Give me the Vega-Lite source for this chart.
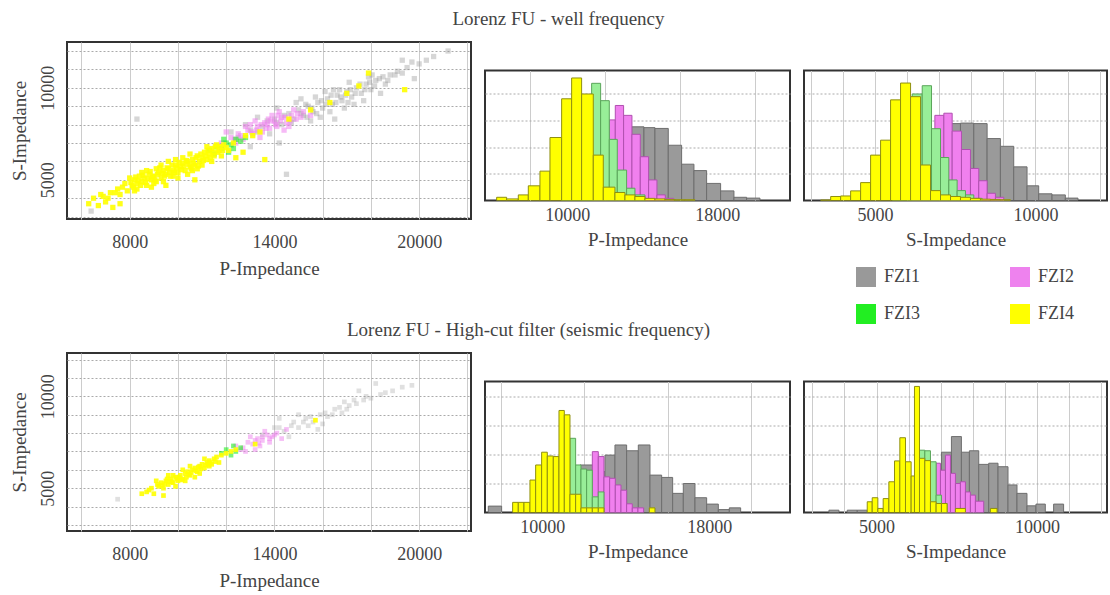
{
"$schema": "https://vega.github.io/schema/vega-lite/v6.json",
"background": "white",
"padding": {"left": 8, "top": 10, "right": 0, "bottom": 0},
"config": {
  "font": "Liberation Serif",
  "view": {"stroke": "#333333", "strokeWidth": 2},
  "axis": {"labelFont": "Liberation Serif", "labelFontSize": 18, "labelColor": "#444444", "titleFont": "Liberation Serif", "titleFontSize": 19, "titleFontWeight": "normal", "titleColor": "#444444", "domain": false, "ticks": false, "gridColor": "#cccccc", "labelOverlap": false, "format": "d"},
  "title": {"font": "Liberation Serif", "fontSize": 19, "fontWeight": "normal", "color": "#444444", "anchor": "middle"},
  "legend": {"labelFont": "Liberation Serif"}
},
"datasets": {
"sc1": [
{"fzi":"FZI1","p":12500,"s":7300},{"fzi":"FZI1","p":13000,"s":7700},{"fzi":"FZI1","p":13500,"s":7900},{"fzi":"FZI1","p":14000,"s":8300},{"fzi":"FZI1","p":14300,"s":8000},{"fzi":"FZI1","p":14600,"s":8600},{"fzi":"FZI1","p":14800,"s":8300},{"fzi":"FZI1","p":15000,"s":8800},{"fzi":"FZI1","p":15200,"s":8500},{"fzi":"FZI1","p":15400,"s":9000},{"fzi":"FZI1","p":15600,"s":8700},{"fzi":"FZI1","p":15800,"s":9200},{"fzi":"FZI1","p":16000,"s":8900},{"fzi":"FZI1","p":16200,"s":9400},{"fzi":"FZI1","p":16400,"s":9100},{"fzi":"FZI1","p":16600,"s":9600},{"fzi":"FZI1","p":16800,"s":9300},{"fzi":"FZI1","p":17000,"s":9800},{"fzi":"FZI1","p":17200,"s":9500},{"fzi":"FZI1","p":17400,"s":10000},{"fzi":"FZI1","p":17600,"s":9700},{"fzi":"FZI1","p":17800,"s":10200},{"fzi":"FZI1","p":18000,"s":9900},{"fzi":"FZI1","p":18200,"s":10400},{"fzi":"FZI1","p":18500,"s":10600},{"fzi":"FZI1","p":18800,"s":10700},{"fzi":"FZI1","p":19100,"s":10900},{"fzi":"FZI1","p":19500,"s":11100},{"fzi":"FZI1","p":20000,"s":11300},{"fzi":"FZI1","p":20600,"s":11700},{"fzi":"FZI1","p":21200,"s":12000},{"fzi":"FZI1","p":15900,"s":8400},{"fzi":"FZI1","p":16700,"s":9900},{"fzi":"FZI1","p":17300,"s":9100},{"fzi":"FZI1","p":14900,"s":9200},{"fzi":"FZI1","p":15500,"s":8200},{"fzi":"FZI1","p":16100,"s":9800},{"fzi":"FZI1","p":17900,"s":10600},{"fzi":"FZI1","p":13800,"s":7500},{"fzi":"FZI1","p":14200,"s":7000},{"fzi":"FZI1","p":13000,"s":6800},{"fzi":"FZI1","p":16500,"s":8300},{"fzi":"FZI1","p":18400,"s":9700},{"fzi":"FZI1","p":19800,"s":10500},{"fzi":"FZI1","p":8300,"s":8300},{"fzi":"FZI1","p":14500,"s":5300},{"fzi":"FZI1","p":15100,"s":9400},{"fzi":"FZI1","p":16300,"s":8700},{"fzi":"FZI1","p":17100,"s":10300},{"fzi":"FZI1","p":18600,"s":10200},{"fzi":"FZI1","p":14100,"s":8900},{"fzi":"FZI1","p":15700,"s":9500},{"fzi":"FZI1","p":16900,"s":8900},{"fzi":"FZI1","p":13300,"s":8400},{"fzi":"FZI1","p":19300,"s":11500},{"fzi":"FZI1","p":17700,"s":9300},{"fzi":"FZI1","p":12800,"s":8000},{"fzi":"FZI1","p":6400,"s":3300},
{"fzi":"FZI1","p":14100,"s":8100},{"fzi":"FZI1","p":14400,"s":8500},{"fzi":"FZI1","p":14700,"s":8100},{"fzi":"FZI1","p":15100,"s":8600},{"fzi":"FZI1","p":15300,"s":9100},{"fzi":"FZI1","p":15550,"s":8900},{"fzi":"FZI1","p":15750,"s":8600},{"fzi":"FZI1","p":15950,"s":9300},{"fzi":"FZI1","p":16150,"s":9100},{"fzi":"FZI1","p":16350,"s":9600},{"fzi":"FZI1","p":16550,"s":9200},{"fzi":"FZI1","p":16750,"s":9500},{"fzi":"FZI1","p":16950,"s":9600},{"fzi":"FZI1","p":17150,"s":9900},{"fzi":"FZI1","p":17350,"s":9700},{"fzi":"FZI1","p":17550,"s":10200},{"fzi":"FZI1","p":17750,"s":9900},{"fzi":"FZI1","p":17950,"s":10300},{"fzi":"FZI1","p":18150,"s":10100},{"fzi":"FZI1","p":18350,"s":10500},{"fzi":"FZI1","p":18700,"s":10400},{"fzi":"FZI1","p":19000,"s":10700},{"fzi":"FZI1","p":19300,"s":10800},{"fzi":"FZI1","p":13700,"s":8200},{"fzi":"FZI1","p":13300,"s":7600},{"fzi":"FZI1","p":15350,"s":8400},{"fzi":"FZI1","p":16450,"s":9900},{"fzi":"FZI1","p":17050,"s":9200},{"fzi":"FZI1","p":18050,"s":10700},{"fzi":"FZI1","p":19700,"s":11400},{"fzi":"FZI1","p":20300,"s":11500},{"fzi":"FZI1","p":12200,"s":7600},
{"fzi":"FZI2","p":11800,"s":7000},{"fzi":"FZI2","p":12200,"s":7300},{"fzi":"FZI2","p":12500,"s":7500},{"fzi":"FZI2","p":12700,"s":7200},{"fzi":"FZI2","p":12900,"s":7700},{"fzi":"FZI2","p":13100,"s":7500},{"fzi":"FZI2","p":13300,"s":7900},{"fzi":"FZI2","p":13500,"s":7600},{"fzi":"FZI2","p":13600,"s":8100},{"fzi":"FZI2","p":13800,"s":7800},{"fzi":"FZI2","p":14000,"s":8200},{"fzi":"FZI2","p":14100,"s":7900},{"fzi":"FZI2","p":14300,"s":8400},{"fzi":"FZI2","p":14500,"s":8100},{"fzi":"FZI2","p":14700,"s":8500},{"fzi":"FZI2","p":14900,"s":8300},{"fzi":"FZI2","p":15200,"s":8700},{"fzi":"FZI2","p":13200,"s":8200},{"fzi":"FZI2","p":13900,"s":8500},{"fzi":"FZI2","p":14400,"s":7700},{"fzi":"FZI2","p":12800,"s":7900},{"fzi":"FZI2","p":15500,"s":8500},{"fzi":"FZI2","p":12000,"s":7600},{"fzi":"FZI2","p":13400,"s":7300},{"fzi":"FZI2","p":14200,"s":8700},{"fzi":"FZI2","p":13700,"s":8000},{"fzi":"FZI2","p":14600,"s":7900},{"fzi":"FZI2","p":13000,"s":8000},{"fzi":"FZI2","p":12400,"s":7000},{"fzi":"FZI2","p":14800,"s":8800},
{"fzi":"FZI2","p":13050,"s":7600},{"fzi":"FZI2","p":13250,"s":7700},{"fzi":"FZI2","p":13450,"s":8000},{"fzi":"FZI2","p":13650,"s":7800},{"fzi":"FZI2","p":13850,"s":8200},{"fzi":"FZI2","p":14050,"s":8000},{"fzi":"FZI2","p":14250,"s":8200},{"fzi":"FZI2","p":14450,"s":8400},{"fzi":"FZI2","p":14650,"s":8200},{"fzi":"FZI2","p":12600,"s":7400},{"fzi":"FZI2","p":13750,"s":8300},{"fzi":"FZI2","p":14150,"s":8500},{"fzi":"FZI2","p":12350,"s":7200},{"fzi":"FZI2","p":14950,"s":8600},{"fzi":"FZI2","p":15100,"s":8400},
{"fzi":"FZI3","p":11300,"s":6600},{"fzi":"FZI3","p":11600,"s":6800},{"fzi":"FZI3","p":11800,"s":6700},{"fzi":"FZI3","p":12000,"s":7000},{"fzi":"FZI3","p":12200,"s":6900},{"fzi":"FZI3","p":12400,"s":7200},{"fzi":"FZI3","p":12600,"s":7100},{"fzi":"FZI3","p":12100,"s":6500},{"fzi":"FZI3","p":11900,"s":7200},{"fzi":"FZI3","p":12800,"s":7300},{"fzi":"FZI3","p":11500,"s":6400},{"fzi":"FZI3","p":12300,"s":6700},
{"fzi":"FZI4","p":6300,"s":3700},{"fzi":"FZI4","p":6500,"s":4000},{"fzi":"FZI4","p":6700,"s":3600},{"fzi":"FZI4","p":6900,"s":4100},{"fzi":"FZI4","p":7100,"s":4000},{"fzi":"FZI4","p":7300,"s":3500},{"fzi":"FZI4","p":7400,"s":4300},{"fzi":"FZI4","p":7600,"s":4200},{"fzi":"FZI4","p":7700,"s":4600},{"fzi":"FZI4","p":7900,"s":4400},{"fzi":"FZI4","p":7600,"s":3700},
{"fzi":"FZI4","p":8100,"s":4700},{"fzi":"FZI4","p":8200,"s":5000},{"fzi":"FZI4","p":8300,"s":4800},{"fzi":"FZI4","p":8400,"s":5200},{"fzi":"FZI4","p":8500,"s":4900},{"fzi":"FZI4","p":8600,"s":5100},{"fzi":"FZI4","p":8700,"s":4700},{"fzi":"FZI4","p":8800,"s":5300},{"fzi":"FZI4","p":8900,"s":5000},{"fzi":"FZI4","p":9000,"s":5200},{"fzi":"FZI4","p":9100,"s":4900},{"fzi":"FZI4","p":9200,"s":5400},{"fzi":"FZI4","p":9300,"s":5100},{"fzi":"FZI4","p":9400,"s":5500},{"fzi":"FZI4","p":9500,"s":5300},{"fzi":"FZI4","p":9600,"s":5600},{"fzi":"FZI4","p":9700,"s":5200},{"fzi":"FZI4","p":9800,"s":5500},{"fzi":"FZI4","p":9900,"s":5800},{"fzi":"FZI4","p":10000,"s":5400},{"fzi":"FZI4","p":10100,"s":5700},{"fzi":"FZI4","p":10200,"s":5900},{"fzi":"FZI4","p":10300,"s":5500},{"fzi":"FZI4","p":10400,"s":6000},{"fzi":"FZI4","p":10500,"s":5700},{"fzi":"FZI4","p":10600,"s":6100},{"fzi":"FZI4","p":10700,"s":5800},{"fzi":"FZI4","p":10800,"s":6300},{"fzi":"FZI4","p":10900,"s":6000},{"fzi":"FZI4","p":11000,"s":6200},{"fzi":"FZI4","p":11100,"s":6500},{"fzi":"FZI4","p":11200,"s":6100},{"fzi":"FZI4","p":11300,"s":6400},{"fzi":"FZI4","p":11400,"s":6700},{"fzi":"FZI4","p":11500,"s":6300},{"fzi":"FZI4","p":11700,"s":6600},{"fzi":"FZI4","p":11900,"s":6900},{"fzi":"FZI4","p":12100,"s":6600},{"fzi":"FZI4","p":12300,"s":7000},
{"fzi":"FZI4","p":8300,"s":4500},{"fzi":"FZI4","p":8700,"s":5500},{"fzi":"FZI4","p":9100,"s":5600},{"fzi":"FZI4","p":9400,"s":4900},{"fzi":"FZI4","p":9800,"s":5200},{"fzi":"FZI4","p":10200,"s":6200},{"fzi":"FZI4","p":10600,"s":5500},{"fzi":"FZI4","p":11000,"s":5800},{"fzi":"FZI4","p":11600,"s":6900},{"fzi":"FZI4","p":9000,"s":4800},{"fzi":"FZI4","p":8500,"s":5400},{"fzi":"FZI4","p":10400,"s":5300},{"fzi":"FZI4","p":11200,"s":6800},{"fzi":"FZI4","p":9600,"s":6000},{"fzi":"FZI4","p":8000,"s":5100},{"fzi":"FZI4","p":8900,"s":4600},{"fzi":"FZI4","p":9900,"s":6100},{"fzi":"FZI4","p":10800,"s":5600},{"fzi":"FZI4","p":11800,"s":6300},{"fzi":"FZI4","p":9300,"s":5800},{"fzi":"FZI4","p":10000,"s":5100},{"fzi":"FZI4","p":8200,"s":4400},{"fzi":"FZI4","p":10500,"s":6400},{"fzi":"FZI4","p":11400,"s":6000},
{"fzi":"FZI4","p":8050,"s":4850},{"fzi":"FZI4","p":8150,"s":4600},{"fzi":"FZI4","p":8250,"s":5150},{"fzi":"FZI4","p":8350,"s":4950},{"fzi":"FZI4","p":8450,"s":4700},{"fzi":"FZI4","p":8550,"s":5250},{"fzi":"FZI4","p":8650,"s":4850},{"fzi":"FZI4","p":8750,"s":5050},{"fzi":"FZI4","p":8850,"s":5450},{"fzi":"FZI4","p":8950,"s":5150},{"fzi":"FZI4","p":9050,"s":5000},{"fzi":"FZI4","p":9150,"s":5300},{"fzi":"FZI4","p":9250,"s":5650},{"fzi":"FZI4","p":9350,"s":5350},{"fzi":"FZI4","p":9450,"s":5200},{"fzi":"FZI4","p":9550,"s":5650},{"fzi":"FZI4","p":9650,"s":5400},{"fzi":"FZI4","p":9750,"s":5800},{"fzi":"FZI4","p":9850,"s":5400},{"fzi":"FZI4","p":9950,"s":5650},{"fzi":"FZI4","p":10050,"s":5950},{"fzi":"FZI4","p":10150,"s":5550},{"fzi":"FZI4","p":10250,"s":5750},{"fzi":"FZI4","p":10350,"s":6050},{"fzi":"FZI4","p":10450,"s":5850},{"fzi":"FZI4","p":10550,"s":5600},{"fzi":"FZI4","p":10650,"s":5900},{"fzi":"FZI4","p":10750,"s":6200},{"fzi":"FZI4","p":10850,"s":5750},{"fzi":"FZI4","p":10950,"s":6400},{"fzi":"FZI4","p":11050,"s":6050},{"fzi":"FZI4","p":11150,"s":6300},{"fzi":"FZI4","p":11250,"s":6600},{"fzi":"FZI4","p":11350,"s":6200},{"fzi":"FZI4","p":11450,"s":6500},{"fzi":"FZI4","p":11550,"s":6800},{"fzi":"FZI4","p":11650,"s":6500},{"fzi":"FZI4","p":11750,"s":6800},{"fzi":"FZI4","p":11850,"s":6600},{"fzi":"FZI4","p":12000,"s":6750},{"fzi":"FZI4","p":7800,"s":4800},{"fzi":"FZI4","p":7500,"s":4500},{"fzi":"FZI4","p":7200,"s":4300},{"fzi":"FZI4","p":7000,"s":3800},{"fzi":"FZI4","p":6800,"s":4200},
{"fzi":"FZI4","p":12400,"s":6200},{"fzi":"FZI4","p":12800,"s":7400},{"fzi":"FZI4","p":13600,"s":6100},{"fzi":"FZI4","p":13100,"s":7400},{"fzi":"FZI4","p":14600,"s":8300},{"fzi":"FZI4","p":15500,"s":8800},{"fzi":"FZI4","p":16300,"s":9200},{"fzi":"FZI4","p":17000,"s":9700},{"fzi":"FZI4","p":17500,"s":10100},{"fzi":"FZI4","p":17900,"s":10800},{"fzi":"FZI4","p":19400,"s":9900},{"fzi":"FZI4","p":12700,"s":6500},{"fzi":"FZI4","p":13400,"s":7600},{"fzi":"FZI4","p":10700,"s":5000},{"fzi":"FZI4","p":9500,"s":4700}
],
"sc2": [
{"fzi":"FZI1","p":13500,"s":7900},{"fzi":"FZI1","p":14000,"s":8300},{"fzi":"FZI1","p":14400,"s":8100},{"fzi":"FZI1","p":14800,"s":8600},{"fzi":"FZI1","p":15000,"s":8300},{"fzi":"FZI1","p":15300,"s":8800},{"fzi":"FZI1","p":15600,"s":8600},{"fzi":"FZI1","p":15900,"s":9000},{"fzi":"FZI1","p":16200,"s":8900},{"fzi":"FZI1","p":16500,"s":9300},{"fzi":"FZI1","p":16800,"s":9100},{"fzi":"FZI1","p":17100,"s":9500},{"fzi":"FZI1","p":17400,"s":9600},{"fzi":"FZI1","p":17700,"s":9800},{"fzi":"FZI1","p":18000,"s":9900},{"fzi":"FZI1","p":18400,"s":10100},{"fzi":"FZI1","p":18900,"s":10300},{"fzi":"FZI1","p":19300,"s":10500},{"fzi":"FZI1","p":19700,"s":10600},{"fzi":"FZI1","p":15000,"s":9000},{"fzi":"FZI1","p":16000,"s":8500},{"fzi":"FZI1","p":17500,"s":10300},{"fzi":"FZI1","p":7500,"s":4400},{"fzi":"FZI1","p":14600,"s":7800},{"fzi":"FZI1","p":16900,"s":9700},{"fzi":"FZI1","p":18200,"s":10700},{"fzi":"FZI1","p":14200,"s":8800},{"fzi":"FZI1","p":15800,"s":8200},
{"fzi":"FZI1","p":14200,"s":8300},{"fzi":"FZI1","p":14700,"s":8400},{"fzi":"FZI1","p":15200,"s":8600},{"fzi":"FZI1","p":15500,"s":8900},{"fzi":"FZI1","p":16100,"s":9100},{"fzi":"FZI1","p":16400,"s":9000},{"fzi":"FZI1","p":16700,"s":9400},{"fzi":"FZI1","p":17000,"s":9300},{"fzi":"FZI1","p":17300,"s":9800},{"fzi":"FZI1","p":17800,"s":10000},{"fzi":"FZI1","p":18600,"s":10200},{"fzi":"FZI1","p":15400,"s":8400},
{"fzi":"FZI2","p":12400,"s":7300},{"fzi":"FZI2","p":12700,"s":7200},{"fzi":"FZI2","p":12900,"s":7500},{"fzi":"FZI2","p":13100,"s":7400},{"fzi":"FZI2","p":13300,"s":7700},{"fzi":"FZI2","p":13500,"s":7600},{"fzi":"FZI2","p":13700,"s":7900},{"fzi":"FZI2","p":13900,"s":7800},{"fzi":"FZI2","p":14100,"s":8000},{"fzi":"FZI2","p":13400,"s":7300},{"fzi":"FZI2","p":13000,"s":7800},{"fzi":"FZI2","p":14300,"s":7700},{"fzi":"FZI2","p":13600,"s":8100},{"fzi":"FZI2","p":12800,"s":7000},{"fzi":"FZI2","p":14500,"s":8200},{"fzi":"FZI2","p":13200,"s":7100},{"fzi":"FZI2","p":13800,"s":7500},
{"fzi":"FZI2","p":13200,"s":7600},{"fzi":"FZI2","p":13500,"s":7800},{"fzi":"FZI2","p":13800,"s":7700},{"fzi":"FZI2","p":14000,"s":7900},{"fzi":"FZI2","p":12600,"s":7100},{"fzi":"FZI2","p":13350,"s":7450},
{"fzi":"FZI3","p":12000,"s":7100},{"fzi":"FZI3","p":12200,"s":6800},{"fzi":"FZI3","p":12400,"s":7000},{"fzi":"FZI3","p":12600,"s":7200},{"fzi":"FZI3","p":11800,"s":6900},{"fzi":"FZI3","p":12300,"s":7300},
{"fzi":"FZI4","p":8500,"s":4700},{"fzi":"FZI4","p":8700,"s":4800},{"fzi":"FZI4","p":8900,"s":5000},{"fzi":"FZI4","p":9000,"s":4700},{"fzi":"FZI4","p":9200,"s":5100},{"fzi":"FZI4","p":9300,"s":5300},{"fzi":"FZI4","p":9400,"s":5000},{"fzi":"FZI4","p":9500,"s":5400},{"fzi":"FZI4","p":9600,"s":5200},{"fzi":"FZI4","p":9700,"s":5500},{"fzi":"FZI4","p":9800,"s":5300},{"fzi":"FZI4","p":9900,"s":5600},{"fzi":"FZI4","p":10000,"s":5400},{"fzi":"FZI4","p":10100,"s":5700},{"fzi":"FZI4","p":10200,"s":5500},{"fzi":"FZI4","p":10300,"s":5800},{"fzi":"FZI4","p":10400,"s":5900},{"fzi":"FZI4","p":10500,"s":5700},{"fzi":"FZI4","p":10600,"s":6000},{"fzi":"FZI4","p":10700,"s":6100},{"fzi":"FZI4","p":10800,"s":5900},{"fzi":"FZI4","p":10900,"s":6200},{"fzi":"FZI4","p":11000,"s":6300},{"fzi":"FZI4","p":11100,"s":6100},{"fzi":"FZI4","p":11200,"s":6400},{"fzi":"FZI4","p":11300,"s":6500},{"fzi":"FZI4","p":11400,"s":6300},{"fzi":"FZI4","p":11500,"s":6600},{"fzi":"FZI4","p":11600,"s":6700},{"fzi":"FZI4","p":11800,"s":6800},{"fzi":"FZI4","p":12000,"s":6900},{"fzi":"FZI4","p":12200,"s":7000},{"fzi":"FZI4","p":9100,"s":5400},{"fzi":"FZI4","p":9600,"s":5700},{"fzi":"FZI4","p":10200,"s":6000},{"fzi":"FZI4","p":10700,"s":5600},{"fzi":"FZI4","p":11100,"s":6600},{"fzi":"FZI4","p":9900,"s":5100},{"fzi":"FZI4","p":10500,"s":6200},{"fzi":"FZI4","p":11700,"s":6400},{"fzi":"FZI4","p":12400,"s":7100},{"fzi":"FZI4","p":15700,"s":8700},{"fzi":"FZI4","p":13200,"s":7400},{"fzi":"FZI4","p":9400,"s":4600},{"fzi":"FZI4","p":9800,"s":5700},{"fzi":"FZI4","p":10300,"s":5400},{"fzi":"FZI4","p":10900,"s":5800},{"fzi":"FZI4","p":11300,"s":6200},
{"fzi":"FZI4","p":9150,"s":5200},{"fzi":"FZI4","p":9350,"s":5150},{"fzi":"FZI4","p":9550,"s":5500},{"fzi":"FZI4","p":9750,"s":5350},{"fzi":"FZI4","p":9950,"s":5500},{"fzi":"FZI4","p":10150,"s":5450},{"fzi":"FZI4","p":10350,"s":5600},{"fzi":"FZI4","p":10550,"s":5850},{"fzi":"FZI4","p":10750,"s":5950},{"fzi":"FZI4","p":10950,"s":6050},{"fzi":"FZI4","p":11150,"s":6250},{"fzi":"FZI4","p":11350,"s":6400},{"fzi":"FZI4","p":11550,"s":6450},{"fzi":"FZI4","p":10050,"s":5600},{"fzi":"FZI4","p":9650,"s":5350},{"fzi":"FZI4","p":10450,"s":5750},{"fzi":"FZI4","p":11250,"s":6300},{"fzi":"FZI4","p":10850,"s":6150},{"fzi":"FZI4","p":8800,"s":4900},{"fzi":"FZI4","p":9450,"s":5250}
],
"hp1": [
{"fzi":"FZI1","lo":10800,"hi":11457,"n":40},{"fzi":"FZI1","lo":11457,"hi":12115,"n":90},{"fzi":"FZI1","lo":12115,"hi":12773,"n":160},{"fzi":"FZI1","lo":12773,"hi":13431,"n":230},{"fzi":"FZI1","lo":13431,"hi":14089,"n":276},{"fzi":"FZI1","lo":14089,"hi":14676,"n":273},{"fzi":"FZI1","lo":14676,"hi":15387,"n":270},{"fzi":"FZI1","lo":15387,"hi":16098,"n":207},{"fzi":"FZI1","lo":16098,"hi":16756,"n":136},{"fzi":"FZI1","lo":16756,"hi":17432,"n":112},{"fzi":"FZI1","lo":17432,"hi":18179,"n":64},{"fzi":"FZI1","lo":18179,"hi":18890,"n":36},{"fzi":"FZI1","lo":18890,"hi":19566,"n":12},{"fzi":"FZI1","lo":19566,"hi":20277,"n":9},
{"fzi":"FZI2","lo":11356,"hi":11800,"n":120},{"fzi":"FZI2","lo":11800,"hi":12240,"n":220},{"fzi":"FZI2","lo":12240,"hi":12560,"n":302},{"fzi":"FZI2","lo":12560,"hi":13004,"n":356},{"fzi":"FZI2","lo":13004,"hi":13449,"n":319},{"fzi":"FZI2","lo":13449,"hi":13893,"n":248},{"fzi":"FZI2","lo":13893,"hi":14338,"n":164},{"fzi":"FZI2","lo":14338,"hi":14782,"n":77},{"fzi":"FZI2","lo":14782,"hi":15227,"n":21},{"fzi":"FZI2","lo":15227,"hi":15671,"n":8},
{"fzi":"FZI3","lo":9698,"hi":10231,"n":60},{"fzi":"FZI3","lo":10231,"hi":10764,"n":200},{"fzi":"FZI3","lo":10764,"hi":11298,"n":380},{"fzi":"FZI3","lo":11298,"hi":11778,"n":439},{"fzi":"FZI3","lo":11778,"hi":12240,"n":374},{"fzi":"FZI3","lo":12240,"hi":12667,"n":229},{"fzi":"FZI3","lo":12667,"hi":13164,"n":114},{"fzi":"FZI3","lo":13164,"hi":13609,"n":46},{"fzi":"FZI3","lo":13609,"hi":14143,"n":21},
{"fzi":"FZI4","lo":6231,"hi":6764,"n":12},{"fzi":"FZI4","lo":6764,"hi":7387,"n":6},{"fzi":"FZI4","lo":7387,"hi":7920,"n":21},{"fzi":"FZI4","lo":7920,"hi":8542,"n":55},{"fzi":"FZI4","lo":8542,"hi":9076,"n":110},{"fzi":"FZI4","lo":9076,"hi":9698,"n":236},{"fzi":"FZI4","lo":9698,"hi":10231,"n":381},{"fzi":"FZI4","lo":10231,"hi":10764,"n":459},{"fzi":"FZI4","lo":10764,"hi":11387,"n":399},{"fzi":"FZI4","lo":11387,"hi":11920,"n":170},{"fzi":"FZI4","lo":11920,"hi":12542,"n":50},{"fzi":"FZI4","lo":12542,"hi":13076,"n":30},{"fzi":"FZI4","lo":13076,"hi":13609,"n":21},{"fzi":"FZI4","lo":13609,"hi":14142,"n":15},{"fzi":"FZI4","lo":14142,"hi":14676,"n":8},{"fzi":"FZI4","lo":14676,"hi":15209,"n":6},{"fzi":"FZI4","lo":15209,"hi":15742,"n":4},{"fzi":"FZI4","lo":15742,"hi":16276,"n":3},{"fzi":"FZI4","lo":16276,"hi":16809,"n":3}
],
"hs1": [
{"fzi":"FZI1","lo":6000,"hi":6420,"n":30},{"fzi":"FZI1","lo":6420,"hi":6835,"n":90},{"fzi":"FZI1","lo":6835,"hi":7250,"n":200},{"fzi":"FZI1","lo":7250,"hi":7665,"n":288},{"fzi":"FZI1","lo":7665,"hi":8080,"n":290},{"fzi":"FZI1","lo":8080,"hi":8495,"n":288},{"fzi":"FZI1","lo":8495,"hi":8909,"n":232},{"fzi":"FZI1","lo":8909,"hi":9324,"n":203},{"fzi":"FZI1","lo":9324,"hi":9739,"n":126},{"fzi":"FZI1","lo":9739,"hi":10102,"n":55},{"fzi":"FZI1","lo":10102,"hi":10517,"n":25},{"fzi":"FZI1","lo":10517,"hi":10932,"n":21},{"fzi":"FZI1","lo":10932,"hi":11326,"n":9},
{"fzi":"FZI2","lo":6150,"hi":6500,"n":60},{"fzi":"FZI2","lo":6500,"hi":6867,"n":180},{"fzi":"FZI2","lo":6867,"hi":7147,"n":319},{"fzi":"FZI2","lo":7147,"hi":7406,"n":327},{"fzi":"FZI2","lo":7406,"hi":7696,"n":260},{"fzi":"FZI2","lo":7696,"hi":7976,"n":191},{"fzi":"FZI2","lo":7976,"hi":8235,"n":120},{"fzi":"FZI2","lo":8235,"hi":8495,"n":74},{"fzi":"FZI2","lo":8495,"hi":8754,"n":27},{"fzi":"FZI2","lo":8754,"hi":9013,"n":12},
{"fzi":"FZI3","lo":5550,"hi":5850,"n":60},{"fzi":"FZI3","lo":5850,"hi":6161,"n":250},{"fzi":"FZI3","lo":6161,"hi":6473,"n":399},{"fzi":"FZI3","lo":6473,"hi":6763,"n":430},{"fzi":"FZI3","lo":6763,"hi":7043,"n":269},{"fzi":"FZI3","lo":7043,"hi":7302,"n":161},{"fzi":"FZI3","lo":7302,"hi":7561,"n":77},{"fzi":"FZI3","lo":7561,"hi":7821,"n":37},{"fzi":"FZI3","lo":7821,"hi":8080,"n":21},{"fzi":"FZI3","lo":8080,"hi":8340,"n":8},
{"fzi":"FZI4","lo":3310,"hi":3621,"n":2},{"fzi":"FZI4","lo":3621,"hi":3932,"n":15},{"fzi":"FZI4","lo":3932,"hi":4243,"n":17},{"fzi":"FZI4","lo":4243,"hi":4554,"n":36},{"fzi":"FZI4","lo":4554,"hi":4865,"n":67},{"fzi":"FZI4","lo":4865,"hi":5176,"n":170},{"fzi":"FZI4","lo":5176,"hi":5487,"n":226},{"fzi":"FZI4","lo":5487,"hi":5798,"n":377},{"fzi":"FZI4","lo":5798,"hi":6110,"n":440},{"fzi":"FZI4","lo":6110,"hi":6421,"n":389},{"fzi":"FZI4","lo":6421,"hi":6732,"n":133},{"fzi":"FZI4","lo":6732,"hi":7043,"n":37},{"fzi":"FZI4","lo":7043,"hi":7354,"n":21},{"fzi":"FZI4","lo":7354,"hi":7665,"n":15},{"fzi":"FZI4","lo":7665,"hi":7976,"n":12},{"fzi":"FZI4","lo":7976,"hi":8287,"n":8},{"fzi":"FZI4","lo":8287,"hi":8598,"n":5},{"fzi":"FZI4","lo":8598,"hi":8909,"n":4},{"fzi":"FZI4","lo":8909,"hi":9220,"n":3}
],
"hp2": [
{"fzi":"FZI1","lo":7413,"hi":8052,"n":22},{"fzi":"FZI1","lo":11246,"hi":11805,"n":90},{"fzi":"FZI1","lo":11805,"hi":12443,"n":164},{"fzi":"FZI1","lo":12443,"hi":13002,"n":141},{"fzi":"FZI1","lo":13002,"hi":13481,"n":198},{"fzi":"FZI1","lo":13481,"hi":14040,"n":233},{"fzi":"FZI1","lo":14040,"hi":14599,"n":213},{"fzi":"FZI1","lo":14599,"hi":15158,"n":233},{"fzi":"FZI1","lo":15158,"hi":15717,"n":129},{"fzi":"FZI1","lo":15717,"hi":16244,"n":121},{"fzi":"FZI1","lo":16244,"hi":16755,"n":66},{"fzi":"FZI1","lo":16755,"hi":17314,"n":100},{"fzi":"FZI1","lo":17314,"hi":17873,"n":51},{"fzi":"FZI1","lo":17873,"hi":18432,"n":29},{"fzi":"FZI1","lo":18432,"hi":18959,"n":10},{"fzi":"FZI1","lo":18959,"hi":19502,"n":16},
{"fzi":"FZI2","lo":12124,"hi":12396,"n":60},{"fzi":"FZI2","lo":12396,"hi":12683,"n":210},{"fzi":"FZI2","lo":12683,"hi":12954,"n":193},{"fzi":"FZI2","lo":12954,"hi":13226,"n":123},{"fzi":"FZI2","lo":13226,"hi":13497,"n":118},{"fzi":"FZI2","lo":13497,"hi":13769,"n":95},{"fzi":"FZI2","lo":13769,"hi":14040,"n":77},{"fzi":"FZI2","lo":14040,"hi":14311,"n":30},{"fzi":"FZI2","lo":14311,"hi":14583,"n":16},{"fzi":"FZI2","lo":14583,"hi":14855,"n":16},
{"fzi":"FZI3","lo":10799,"hi":11054,"n":80},{"fzi":"FZI3","lo":11054,"hi":11326,"n":150},{"fzi":"FZI3","lo":11326,"hi":11597,"n":256},{"fzi":"FZI3","lo":11597,"hi":11853,"n":164},{"fzi":"FZI3","lo":11853,"hi":12124,"n":150},{"fzi":"FZI3","lo":12124,"hi":12396,"n":146},{"fzi":"FZI3","lo":12396,"hi":12683,"n":54},{"fzi":"FZI3","lo":12683,"hi":12954,"n":71},
{"fzi":"FZI4","lo":8579,"hi":8850,"n":35},{"fzi":"FZI4","lo":8850,"hi":9122,"n":35},{"fzi":"FZI4","lo":9122,"hi":9409,"n":35},{"fzi":"FZI4","lo":9409,"hi":9681,"n":112},{"fzi":"FZI4","lo":9681,"hi":9968,"n":164},{"fzi":"FZI4","lo":9968,"hi":10240,"n":208},{"fzi":"FZI4","lo":10240,"hi":10527,"n":195},{"fzi":"FZI4","lo":10527,"hi":10799,"n":193},{"fzi":"FZI4","lo":10799,"hi":11054,"n":352},{"fzi":"FZI4","lo":11054,"hi":11326,"n":337},{"fzi":"FZI4","lo":11326,"hi":11597,"n":63},{"fzi":"FZI4","lo":11597,"hi":11853,"n":63},{"fzi":"FZI4","lo":11853,"hi":12124,"n":16},{"fzi":"FZI4","lo":12124,"hi":12396,"n":16},{"fzi":"FZI4","lo":12396,"hi":12683,"n":16},{"fzi":"FZI4","lo":12683,"hi":12954,"n":16},{"fzi":"FZI4","lo":15126,"hi":15398,"n":16}
],
"hs2": [
{"fzi":"FZI1","lo":3517,"hi":3828,"n":8},{"fzi":"FZI1","lo":4087,"hi":4399,"n":8},{"fzi":"FZI1","lo":4399,"hi":4710,"n":8},{"fzi":"FZI1","lo":6700,"hi":7022,"n":150},{"fzi":"FZI1","lo":7022,"hi":7333,"n":208},{"fzi":"FZI1","lo":7333,"hi":7644,"n":262},{"fzi":"FZI1","lo":7644,"hi":7893,"n":208},{"fzi":"FZI1","lo":7893,"hi":8184,"n":213},{"fzi":"FZI1","lo":8184,"hi":8495,"n":166},{"fzi":"FZI1","lo":8495,"hi":8785,"n":170},{"fzi":"FZI1","lo":8785,"hi":9096,"n":158},{"fzi":"FZI1","lo":9096,"hi":9376,"n":95},{"fzi":"FZI1","lo":9376,"hi":9687,"n":66},{"fzi":"FZI1","lo":9687,"hi":9967,"n":23},{"fzi":"FZI1","lo":9967,"hi":10258,"n":29},{"fzi":"FZI1","lo":10517,"hi":10828,"n":29},
{"fzi":"FZI2","lo":6856,"hi":6991,"n":170},{"fzi":"FZI2","lo":6991,"hi":7147,"n":146},{"fzi":"FZI2","lo":7147,"hi":7302,"n":198},{"fzi":"FZI2","lo":7302,"hi":7458,"n":135},{"fzi":"FZI2","lo":7458,"hi":7613,"n":100},{"fzi":"FZI2","lo":7613,"hi":7769,"n":106},{"fzi":"FZI2","lo":7769,"hi":7924,"n":71},{"fzi":"FZI2","lo":7924,"hi":8080,"n":60},{"fzi":"FZI2","lo":8080,"hi":8339,"n":39},
{"fzi":"FZI3","lo":6338,"hi":6504,"n":215},{"fzi":"FZI3","lo":6504,"hi":6680,"n":213},{"fzi":"FZI3","lo":6680,"hi":6856,"n":175},{"fzi":"FZI3","lo":6856,"hi":7022,"n":60},{"fzi":"FZI3","lo":7022,"hi":7198,"n":31},
{"fzi":"FZI4","lo":4710,"hi":4865,"n":37},{"fzi":"FZI4","lo":4865,"hi":5041,"n":51},{"fzi":"FZI4","lo":5041,"hi":5207,"n":14},{"fzi":"FZI4","lo":5207,"hi":5384,"n":48},{"fzi":"FZI4","lo":5384,"hi":5560,"n":106},{"fzi":"FZI4","lo":5560,"hi":5726,"n":178},{"fzi":"FZI4","lo":5726,"hi":5902,"n":258},{"fzi":"FZI4","lo":5902,"hi":6078,"n":175},{"fzi":"FZI4","lo":6078,"hi":6182,"n":126},{"fzi":"FZI4","lo":6182,"hi":6338,"n":435},{"fzi":"FZI4","lo":6338,"hi":6504,"n":187},{"fzi":"FZI4","lo":6504,"hi":6680,"n":179},{"fzi":"FZI4","lo":6680,"hi":6856,"n":37},{"fzi":"FZI4","lo":6856,"hi":7022,"n":31},{"fzi":"FZI4","lo":7022,"hi":7198,"n":31},{"fzi":"FZI4","lo":7458,"hi":7769,"n":14},{"fzi":"FZI4","lo":8547,"hi":8754,"n":14}
]
},
"resolve": {"scale": {"color": "shared"}},
"spacing": 42,
"vconcat": [
{
 "title": {"text": "Lorenz FU - well frequency", "offset": 12},
 "center": true,
 "spacing": 12,
 "hconcat": [
  {
   "width": 404, "height": 177,
   "data": {"name": "sc1"},
   "mark": {"type": "square", "size": 28, "clip": true},
   "encoding": {
    "x": {"field": "p", "type": "quantitative", "scale": {"domain": [5400, 22150], "nice": false, "zero": false},
          "axis": {"title": "P-Impedance", "values": [6000,8000,10000,12000,14000,16000,18000,20000,22000], "labelExpr": "datum.value % 6000 === 2000 ? datum.label : ''", "labelPadding": 14, "titlePadding": 8}},
    "y": {"field": "s", "type": "quantitative", "scale": {"domain": [2870, 12490], "nice": false, "zero": false},
          "axis": {"title": "S-Impedance", "values": [3000,4000,5000,6000,7000,8000,9000,10000,11000,12000], "labelExpr": "datum.value % 5000 === 0 ? datum.label : ''", "labelAngle": -90, "labelAlign": "center", "labelBaseline": "bottom", "labelPadding": 10, "titlePadding": 10, "gridDash": [2, 2], "gridColor": "#aaaaaa"}},
    "color": {"field": "fzi", "type": "nominal", "scale": {"domain": ["FZI1","FZI3","FZI2","FZI4"], "range": ["#999999","#22ee22","#ee82ee","#ffff00"]},
              "legend": {"orient": "none", "legendX": 789, "legendY": 225, "columns": 2, "columnPadding": 90, "rowPadding": 17, "symbolType": "square", "symbolSize": 400, "symbolOpacity": 1, "symbolStrokeWidth": 0, "labelFontSize": 18, "labelColor": "#444444", "labelOffset": 8, "title": null}},
    "opacity": {"condition": [{"test": "datum.fzi === 'FZI1'", "value": 0.4}, {"test": "datum.fzi === 'FZI2'", "value": 0.55}, {"test": "datum.fzi === 'FZI3'", "value": 0.6}], "value": 0.9}
   }
  },
  {
   "width": 305, "height": 130,
   "data": {"name": "hp1"},
   "mark": {"type": "rect", "strokeWidth": 1, "clip": true},
   "encoding": {
    "x": {"field": "lo", "type": "quantitative", "scale": {"domain": [5610, 21880], "nice": false, "zero": false},
          "axis": {"title": "P-Impedance", "values": [8000,10000,12000,16000,18000,20000], "labelExpr": "(datum.value === 10000 || datum.value === 18000) ? datum.label : ''", "gridOpacity": {"condition": {"test": "datum.value % 4000 === 0", "value": 1}, "value": 0}, "labelPadding": 6, "titlePadding": 6}},
    "x2": {"field": "hi"},
    "y": {"field": "n", "type": "quantitative", "scale": {"domain": [0, 487], "nice": false},
          "axis": {"title": null, "labels": false, "values": [100,200,300,400], "gridDash": [2, 2], "gridColor": "#aaaaaa"}},
    "y2": {"datum": 0},
    "fill": {"field": "fzi", "type": "nominal", "scale": {"domain": ["FZI1","FZI2","FZI3","FZI4"], "range": ["#9a9a9a","#f080ee","#98ee98","#ffff00"]}, "legend": null},
    "stroke": {"field": "fzi", "type": "nominal", "scale": {"domain": ["FZI1","FZI2","FZI3","FZI4"], "range": ["#6e6e6e","#b050b0","#5aa55a","#8f8f10"]}, "legend": null}
   }
  },
  {
   "width": 303, "height": 130,
   "data": {"name": "hs1"},
   "mark": {"type": "rect", "strokeWidth": 1, "clip": true},
   "encoding": {
    "x": {"field": "lo", "type": "quantitative", "scale": {"domain": [2790, 12230], "nice": false, "zero": false},
          "axis": {"title": "S-Impedance", "values": [3000,4000,5000,6000,7000,8000,9000,10000,11000,12000], "labelExpr": "datum.value % 5000 === 0 ? datum.label : ''", "labelPadding": 6, "titlePadding": 6}},
    "x2": {"field": "hi"},
    "y": {"field": "n", "type": "quantitative", "scale": {"domain": [0, 487], "nice": false},
          "axis": {"title": null, "labels": false, "values": [100,200,300,400], "gridDash": [2, 2], "gridColor": "#aaaaaa"}},
    "y2": {"datum": 0},
    "fill": {"field": "fzi", "type": "nominal", "scale": {"domain": ["FZI1","FZI2","FZI3","FZI4"], "range": ["#9a9a9a","#f080ee","#98ee98","#ffff00"]}, "legend": null},
    "stroke": {"field": "fzi", "type": "nominal", "scale": {"domain": ["FZI1","FZI2","FZI3","FZI4"], "range": ["#6e6e6e","#b050b0","#5aa55a","#8f8f10"]}, "legend": null}
   }
  }
 ]
},
{
 "title": {"text": "Lorenz FU - High-cut filter (seismic frequency)", "offset": 12, "dx": -30},
 "center": true,
 "spacing": 12,
 "hconcat": [
  {
   "width": 404, "height": 178,
   "data": {"name": "sc2"},
   "mark": {"type": "square", "size": 22, "clip": true},
   "encoding": {
    "x": {"field": "p", "type": "quantitative", "scale": {"domain": [5400, 22150], "nice": false, "zero": false},
          "axis": {"title": "P-Impedance", "values": [6000,8000,10000,12000,14000,16000,18000,20000,22000], "labelExpr": "datum.value % 6000 === 2000 ? datum.label : ''", "labelPadding": 14, "titlePadding": 8}},
    "y": {"field": "s", "type": "quantitative", "scale": {"domain": [2670, 12360], "nice": false, "zero": false},
          "axis": {"title": "S-Impedance", "values": [3000,4000,5000,6000,7000,8000,9000,10000,11000,12000], "labelExpr": "datum.value % 5000 === 0 ? datum.label : ''", "labelAngle": -90, "labelAlign": "center", "labelBaseline": "bottom", "labelPadding": 10, "titlePadding": 10, "gridDash": [2, 2], "gridColor": "#aaaaaa"}},
    "color": {"field": "fzi", "type": "nominal", "scale": {"domain": ["FZI1","FZI3","FZI2","FZI4"], "range": ["#999999","#22ee22","#ee82ee","#ffff00"]},
              "legend": {"orient": "none", "legendX": 789, "legendY": 225, "columns": 2, "columnPadding": 90, "rowPadding": 17, "symbolType": "square", "symbolSize": 400, "symbolOpacity": 1, "symbolStrokeWidth": 0, "labelFontSize": 18, "labelColor": "#444444", "labelOffset": 8, "title": null}},
    "opacity": {"condition": [{"test": "datum.fzi === 'FZI1'", "value": 0.3}, {"test": "datum.fzi === 'FZI2'", "value": 0.5}, {"test": "datum.fzi === 'FZI3'", "value": 0.6}], "value": 0.9}
   }
  },
  {
   "width": 305, "height": 131,
   "data": {"name": "hp2"},
   "mark": {"type": "rect", "strokeWidth": 1, "clip": true},
   "encoding": {
    "x": {"field": "lo", "type": "quantitative", "scale": {"domain": [7255, 21866], "nice": false, "zero": false},
          "axis": {"title": "P-Impedance", "values": [8000,10000,12000,16000,18000,20000], "labelExpr": "(datum.value === 10000 || datum.value === 18000) ? datum.label : ''", "gridOpacity": {"condition": {"test": "datum.value % 4000 === 0", "value": 1}, "value": 0}, "labelPadding": 6, "titlePadding": 6}},
    "x2": {"field": "hi"},
    "y": {"field": "n", "type": "quantitative", "scale": {"domain": [0, 452], "nice": false},
          "axis": {"title": null, "labels": false, "values": [100,200,300,400], "gridDash": [2, 2], "gridColor": "#aaaaaa"}},
    "y2": {"datum": 0},
    "fill": {"field": "fzi", "type": "nominal", "scale": {"domain": ["FZI1","FZI2","FZI3","FZI4"], "range": ["#9a9a9a","#f080ee","#98ee98","#ffff00"]}, "legend": null},
    "stroke": {"field": "fzi", "type": "nominal", "scale": {"domain": ["FZI1","FZI2","FZI3","FZI4"], "range": ["#6e6e6e","#b050b0","#5aa55a","#8f8f10"]}, "legend": null}
   }
  },
  {
   "width": 303, "height": 131,
   "data": {"name": "hs2"},
   "mark": {"type": "rect", "strokeWidth": 1, "clip": true},
   "encoding": {
    "x": {"field": "lo", "type": "quantitative", "scale": {"domain": [2740, 12180], "nice": false, "zero": false},
          "axis": {"title": "S-Impedance", "values": [3000,4000,5000,6000,7000,8000,9000,10000,11000,12000], "labelExpr": "datum.value % 5000 === 0 ? datum.label : ''", "labelPadding": 6, "titlePadding": 6}},
    "x2": {"field": "hi"},
    "y": {"field": "n", "type": "quantitative", "scale": {"domain": [0, 452], "nice": false},
          "axis": {"title": null, "labels": false, "values": [100,200,300,400], "gridDash": [2, 2], "gridColor": "#aaaaaa"}},
    "y2": {"datum": 0},
    "fill": {"field": "fzi", "type": "nominal", "scale": {"domain": ["FZI1","FZI2","FZI3","FZI4"], "range": ["#9a9a9a","#f080ee","#98ee98","#ffff00"]}, "legend": null},
    "stroke": {"field": "fzi", "type": "nominal", "scale": {"domain": ["FZI1","FZI2","FZI3","FZI4"], "range": ["#6e6e6e","#b050b0","#5aa55a","#8f8f10"]}, "legend": null}
   }
  }
 ]
}
]
}
